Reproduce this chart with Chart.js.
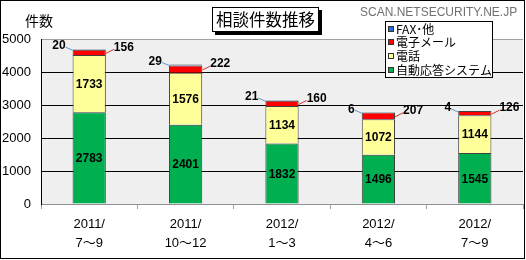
<!DOCTYPE html>
<html>
<head>
<meta charset="utf-8">
<script src="https://cdn.jsdelivr.net/npm/chart.js@4"></script>
<style>
  html, body { margin: 0; padding: 0; background: #fff; }
  #wrap { width: 526px; height: 260px; position: relative; }
</style>
</head>
<body>
<div id="wrap"><canvas id="chart" width="526" height="260"></canvas></div>
<script>
'use strict';

// ── data ──
const periods   = [['2011/', '7〜9'], ['2011/', '10〜12'], ['2012/', '1〜3'], ['2012/', '4〜6'], ['2012/', '7〜9']];
const autoReply = [2783, 2401, 1832, 1496, 1545];
const phone     = [1733, 1576, 1134, 1072, 1144];
const email     = [156, 222, 160, 207, 126];
const faxOther  = [20, 29, 21, 6, 4];
const yTicks    = [0, 1000, 2000, 3000, 4000, 5000];

const NUM_FONT = '"Liberation Sans", Arial, "Noto Sans CJK JP", sans-serif';
const JP_FONT  = '"Noto Sans CJK JP", "Liberation Sans", sans-serif';

// plot background + outer frame, title, legend
const framePlugin = {
    id: 'frame',
    beforeDraw(chart) {
        const { ctx, chartArea: a } = chart;
        ctx.save();
        ctx.fillStyle = '#fff';
        ctx.fillRect(0, 0, chart.width, chart.height);
        ctx.fillStyle = '#efefef';
        ctx.fillRect(a.left, a.top, a.right - a.left, a.bottom - a.top);
        ctx.restore();
    },
    afterDraw(chart) {
        const ctx = chart.ctx;
        ctx.save();
        ctx.strokeStyle = '#000';
        ctx.lineWidth = 1;
        ctx.strokeRect(0.5, 0.5, chart.width - 2, chart.height - 2);

        // axis caption
        ctx.fillStyle = '#000';
        ctx.font = '14px ' + JP_FONT;
        ctx.textBaseline = 'middle';
        ctx.textAlign = 'left';
        ctx.fillText('件数', 25, 21);

        // title box with shadow
        ctx.fillStyle = '#000';
        ctx.fillRect(215, 10, 107, 25);
        ctx.fillStyle = '#fff';
        ctx.fillRect(212, 7, 107, 25);
        ctx.strokeStyle = '#000';
        ctx.strokeRect(212.5, 7.5, 106, 24);
        ctx.fillStyle = '#000';
        ctx.font = '16.5px ' + JP_FONT;
        ctx.textAlign = 'center';
        ctx.fillText('相談件数推移', 265.5, 19.5);

        // site name
        ctx.fillStyle = '#707070';
        ctx.font = '12px ' + NUM_FONT;
        ctx.textAlign = 'left';
        ctx.fillText('SCAN.NETSECURITY.NE.JP', 360, 13);

        // legend box
        ctx.fillStyle = '#fff';
        ctx.fillRect(385, 21, 108, 57);
        ctx.strokeStyle = '#000';
        ctx.strokeRect(385.5, 21.5, 107, 56);
        const order = [3, 2, 1, 0];
        const rowsY = [29, 42, 56, 70];
        ctx.font = '12px ' + JP_FONT;
        order.forEach((di, i) => {
            const ds = chart.data.datasets[di];
            ctx.fillStyle = ds.backgroundColor;
            ctx.fillRect(388, rowsY[i] - 3, 6, 6);
            ctx.strokeStyle = '#333';
            ctx.strokeRect(388.5, rowsY[i] - 2.5, 5, 5);
            ctx.fillStyle = '#000';
            ctx.fillText(ds.label, 396, rowsY[i]);
        });
        ctx.restore();
    }
};

// value labels (inside for big segments, leader lines for small ones)
const valueLabels = {
    id: 'valueLabels',
    afterDatasetsDraw(chart) {
        const ctx = chart.ctx;
        ctx.save();
        ctx.textBaseline = 'middle';
        ctx.fillStyle = '#000';
        ctx.font = 'bold 12px ' + NUM_FONT;
        [0, 1].forEach(di => {
            chart.getDatasetMeta(di).data.forEach((bar, i) => {
                const v = chart.data.datasets[di].data[i];
                ctx.textAlign = 'center';
                ctx.fillText(String(v), bar.x, (bar.y + bar.base) / 2 + 1);
            });
        });

        // email: right side
        chart.getDatasetMeta(2).data.forEach((bar, i) => {
            const v = chart.data.datasets[2].data[i];
            const right = bar.x + bar.width / 2;
            const mid = (bar.y + bar.base) / 2;
            ctx.strokeStyle = '#e03030';
            ctx.lineWidth = 1;
            ctx.beginPath();
            ctx.moveTo(right, mid + 1);
            ctx.lineTo(right + 8, mid - 3);
            ctx.stroke();
            ctx.textAlign = 'left';
            ctx.fillText(String(v), right + 8, mid - 5);
        });

        // fax / other: left side
        chart.getDatasetMeta(3).data.forEach((bar, i) => {
            const v = chart.data.datasets[3].data[i];
            const left = bar.x - bar.width / 2;
            const top = bar.y;
            ctx.strokeStyle = '#5b9bd5';
            ctx.lineWidth = 1;
            ctx.beginPath();
            ctx.moveTo(left - 7, top - 2);
            ctx.lineTo(left, top + 1);
            ctx.stroke();
            ctx.textAlign = 'right';
            ctx.fillText(String(v), left - 7, top - 3);
        });
        ctx.restore();
    }
};

const ctx = document.getElementById('chart');
new Chart(ctx, {
    type: 'bar',
    data: {
        labels: periods,
        datasets: [
            { label: '自動応答システム', data: autoReply, backgroundColor: '#00b050' },
            { label: '電話', data: phone, backgroundColor: '#ffff99' },
            { label: '電子メール', data: email, backgroundColor: '#ff0000' },
            { label: 'FAX･他', data: faxOther, backgroundColor: '#1f6fd6' }
        ].map(d => Object.assign(d, {
            borderColor: '#404040',
            borderWidth: 1,
            categoryPercentage: 1,
            barPercentage: 0.345
        }))
    },
    options: {
        responsive: false,
        animation: false,
        events: [],
        layout: { padding: { top: 39, right: 3, left: 0, bottom: 0 } },
        plugins: { legend: { display: false }, tooltip: { enabled: false } },
        scales: {
            x: {
                stacked: true,
                afterFit: s => { s.height = 56; },
                grid: { offset: true, drawOnChartArea: false, tickLength: 5, color: '#a0a0a0' },
                border: { color: '#909090' },
                ticks: {
                    color: '#000',
                    padding: 6,
                    maxRotation: 0,
                    font: { family: NUM_FONT, size: 13, lineHeight: 1.45 }
                }
            },
            y: {
                stacked: true,
                min: 0,
                max: 5000,
                afterFit: s => { s.width = 41; },
                afterBuildTicks: s => { s.ticks = yTicks.map(v => ({ value: v })); },
                grid: {
                    drawTicks: false,
                    color: c => (c.tick && c.tick.value === 5000) ? '#a0a0a0' : '#000'
                },
                border: { color: '#000' },
                ticks: {
                    color: '#000',
                    padding: 10,
                    callback: v => String(v),
                    font: { family: NUM_FONT, size: 13 }
                }
            }
        }
    },
    plugins: [framePlugin, valueLabels]
});
</script>
</body>
</html>
